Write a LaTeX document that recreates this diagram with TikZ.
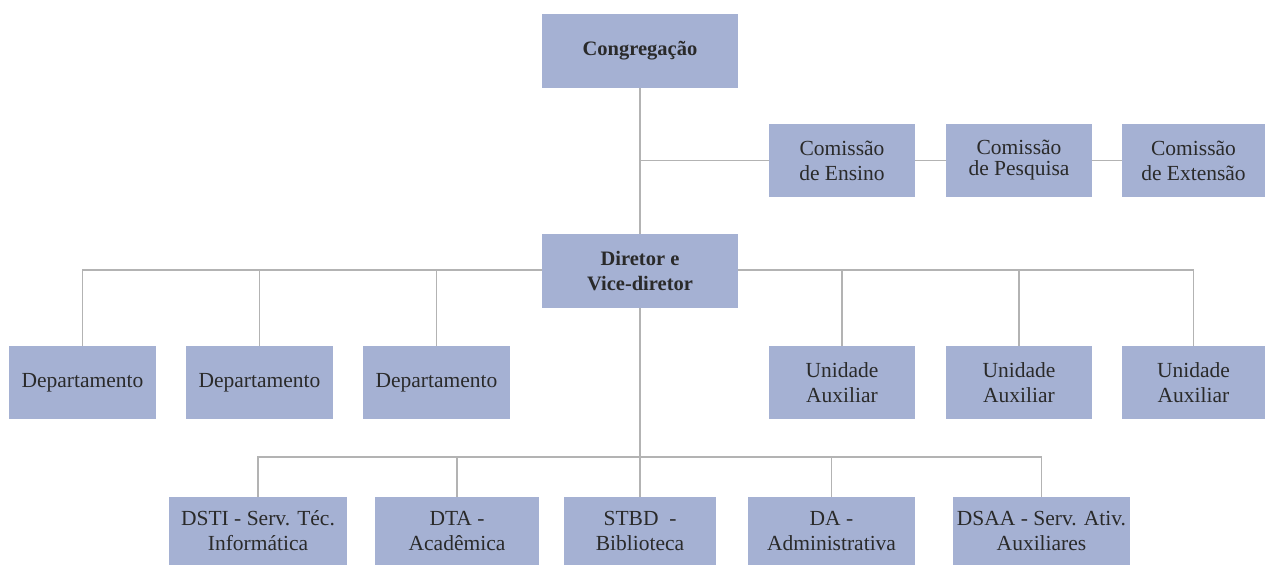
\documentclass[tikz,border=0pt]{standalone}
\usepackage{fontspec}
\setmainfont{Liberation Serif}
\usetikzlibrary{backgrounds}
\definecolor{boxc}{HTML}{A5B1D3}
\definecolor{linec}{HTML}{B3B3B3}
\definecolor{txtc}{HTML}{2A2A2A}
\begin{document}
\begin{tikzpicture}[x=1pt,y=-1pt,
  box/.style={rectangle,fill=boxc,inner sep=0pt,align=center,text=txtc,
    font=\fontsize{21.5}{25}\selectfont},
  bbox/.style={box,font=\fontsize{20.5}{25}\selectfont\bfseries},
  conn/.style={draw=linec,line width=1.5pt}]
\useasboundingbox (0,0) rectangle (1265,582);
% top
\node[bbox,minimum width=196pt,minimum height=74pt] (cong) at (640,51) {Congregação};
\node[bbox,minimum width=196pt,minimum height=74pt] (dir) at (640,271) {Diretor e\\Vice-diretor};
% comissões
\node[box,minimum width=146pt,minimum height=73pt] (ce) at (842,160.5) {Comissão\\de Ensino};
\node[box,minimum width=146pt,minimum height=73pt] (cp) at (1019,160.5) {Comissão\\[-4pt]de Pesquisa};
\node[box,minimum width=143pt,minimum height=73pt] (cx) at (1193.5,160.5) {Comissão\\de Extensão};
% departamentos
\node[box,minimum width=147pt,minimum height=73pt] (d1) at (82.5,382.5) {Departamento};
\node[box,minimum width=147pt,minimum height=73pt] (d2) at (259.5,382.5) {Departamento};
\node[box,minimum width=147pt,minimum height=73pt] (d3) at (436.5,382.5) {Departamento};
% unidades
\node[box,minimum width=146pt,minimum height=73pt] (u1) at (842,382.5) {Unidade\\Auxiliar};
\node[box,minimum width=146pt,minimum height=73pt] (u2) at (1019,382.5) {Unidade\\Auxiliar};
\node[box,minimum width=143pt,minimum height=73pt] (u3) at (1193.5,382.5) {Unidade\\Auxiliar};
% bottom row
\node[box,minimum width=178pt,minimum height=68pt] (b1) at (258,531) {DSTI - Serv. Téc.\\Informática};
\node[box,minimum width=164pt,minimum height=68pt] (b2) at (457,531) {DTA -\\Acadêmica};
\node[box,minimum width=152pt,minimum height=68pt] (b3) at (640,531) {STBD\ \ -\\Biblioteca};
\node[box,minimum width=167pt,minimum height=68pt] (b4) at (831.5,531) {DA -\\Administrativa};
\node[box,minimum width=177pt,minimum height=68pt] (b5) at (1041.5,531) {DSAA - Serv. Ativ.\\Auxiliares};
\coordinate (hl) at (0,270);
\coordinate (hb) at (0,457);
\begin{scope}[on background layer]
  \draw[conn] (cong.south) -- (dir.north);
  \draw[conn] (cong.south |- ce.west) -- (ce.west);
  \draw[conn] (ce.east) -- (cp.west);
  \draw[conn] (cp.east) -- (cx.west);
  \draw[conn] (d1.north) -- (d1.north |- hl) -- (u3.north |- hl) -- (u3.north);
  \draw[conn] (d2.north) -- (d2.north |- hl);
  \draw[conn] (d3.north) -- (d3.north |- hl);
  \draw[conn] (u1.north) -- (u1.north |- hl);
  \draw[conn] (u2.north) -- (u2.north |- hl);
  \draw[conn] (dir.south) -- (dir.south |- hb);
  \draw[conn] (b1.north) -- (b1.north |- hb) -- (b5.north |- hb) -- (b5.north);
  \draw[conn] (b2.north) -- (b2.north |- hb);
  \draw[conn] (b3.north) -- (b3.north |- hb);
  \draw[conn] (b4.north) -- (b4.north |- hb);
\end{scope}
\end{tikzpicture}
\end{document}
